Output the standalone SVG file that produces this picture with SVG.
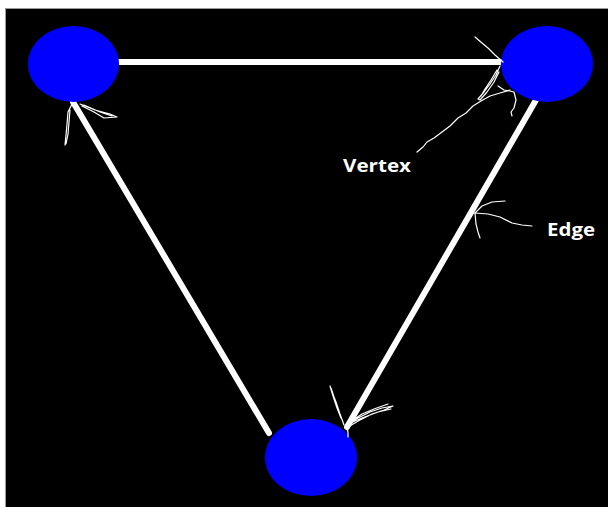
<svg xmlns="http://www.w3.org/2000/svg" width="608" height="507" viewBox="0 0 608 507">
<style>
.v{fill:#0000ff}
.e{stroke:#fff;stroke-width:6;stroke-linecap:round;fill:none}
.s{stroke:#fff;stroke-width:1.2;fill:none;stroke-linecap:round;stroke-linejoin:round}
.t{fill:#fff;font-family:"Open Sans","Noto Sans",sans-serif;font-weight:bold}
</style>
<rect width="608" height="507" fill="#fff"/>
<rect x="5.5" y="8.5" width="603" height="499" fill="#000" stroke="#9a9a9a" stroke-width="1"/>
<g id="connectors">
<line class="e" x1="117" y1="62" x2="504" y2="62"/>
<line class="e" x1="536" y1="100" x2="347" y2="427"/>
<line class="e" x1="73" y1="102" x2="269" y2="433"/>
</g>
<g id="vertex-top-left"><ellipse class="v" cx="73.5" cy="64" rx="45.5" ry="38"/></g>
<g id="vertex-top-right"><ellipse class="v" cx="547" cy="64" rx="46" ry="38"/></g>
<g id="vertex-bottom"><ellipse class="v" cx="311" cy="457.5" rx="46" ry="38.5"/></g>
<g id="sketch-marks">
<path class="s" d="M72 104 L68 112 L67 124 L66 135 L65 145 M70 110 L69 122 L68 134 L66 144"/>
<path class="s" d="M80 104 L95 110 L110 114 L117 117 L104 118 L94 112 L82 106 M84 105 L100 112 L112 116"/>
<path class="s" d="M475 37 L482 43 L488 48 L495 55 L503 62"/>
<path class="s" d="M500 66 L496 75 L490 84 L484 92 L478 99 L480 100 L487 92 L494 82 L499 72 M497 70 L491 80 L485 89 L481 96"/>
<path class="s" d="M498 86 L504 90 L510 91 L514 92 L516 100 L514 108 L511 112 L512 116"/>
<path class="s" d="M510 90 L500 93 L490 96 L481 101 L473 106 L466 113 L458 118 L450 126 L442 132 L434 138 L427 142 L423 147 L417 152"/>
<path class="s" d="M475 213 L482 206 L492 202 L505 201"/>
<path class="s" d="M475 213 L488 214 L500 217 L512 223 L522 225 L532 226"/>
<path class="s" d="M475 213 L476 224 L478 232 L480 238"/>
<path class="s" d="M344 425 L340 414 L336 402 L332 392 L330 386 L333 396 L337 408 L341 418 M331 388 L335 400 L339 412 L343 422"/>
<path class="s" d="M346 425 L358 418 L370 412 L382 408 L393 406 L384 410 L372 414 L360 420 L348 427 M350 422 L362 414 L374 409 L388 404 M348 424 L362 418 L378 412 L391 409"/>
<path class="s" d="M346 426 L348 432 L348 437"/>
</g>
<g id="labels">
<text class="t" x="343" y="172" font-size="17" textLength="68" lengthAdjust="spacingAndGlyphs">Vertex</text>
<text class="t" x="547" y="236" font-size="18" textLength="48" lengthAdjust="spacingAndGlyphs">Edge</text>
</g>
</svg>
